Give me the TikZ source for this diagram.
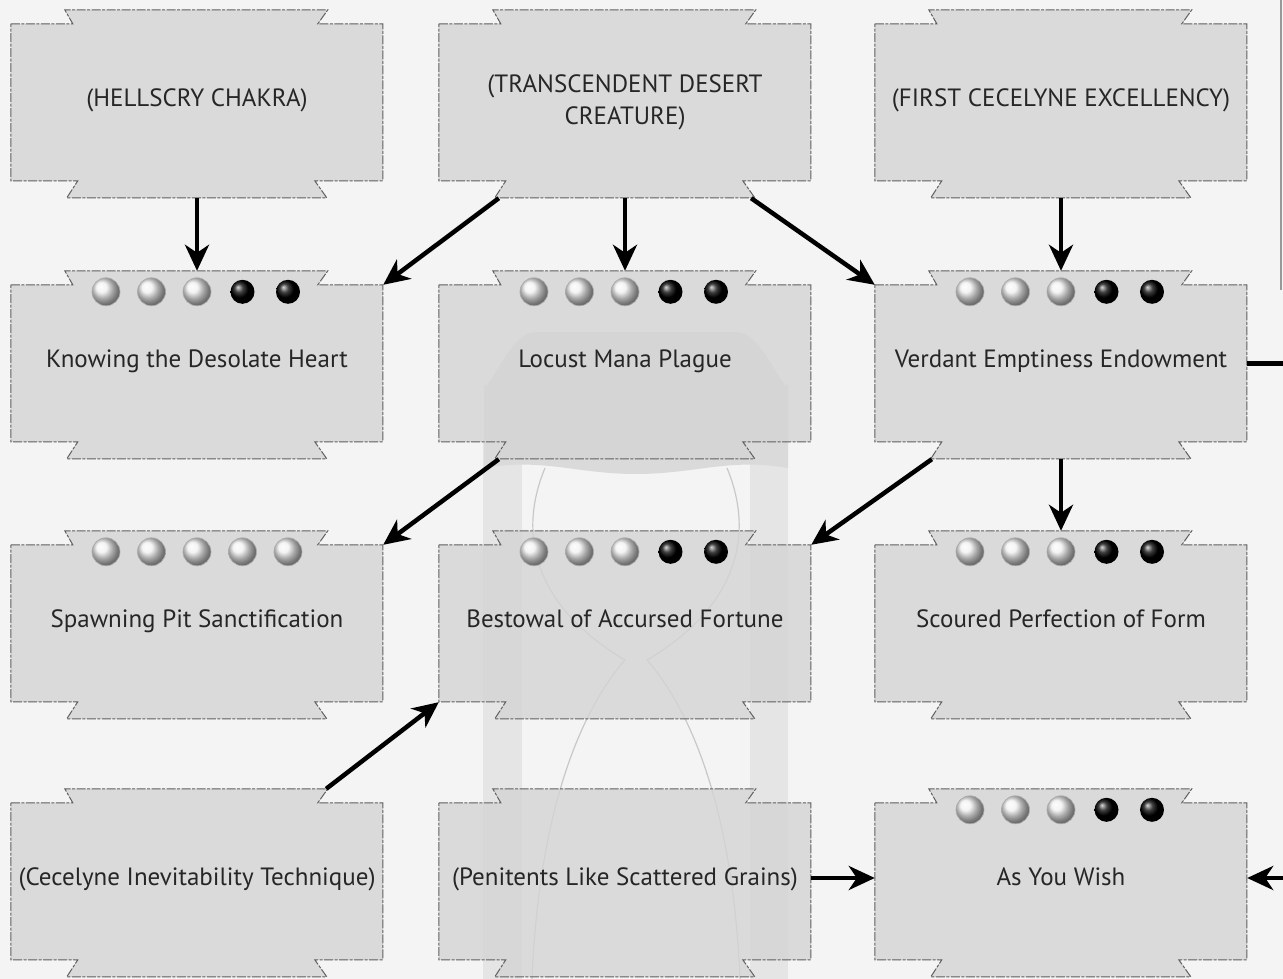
\documentclass[tikz,border=0pt]{standalone}
\usepackage{fontspec}
\setmainfont{PT Sans}
\usetikzlibrary{arrows.meta, calc}

\pgfdeclarelayer{back}
\pgfdeclarelayer{mid}
\pgfsetlayers{back,mid,main}

\definecolor{paper}{RGB}{244,244,244}
\definecolor{charmgray}{RGB}{212,212,212}
\definecolor{rimgray}{RGB}{95,95,95}
\definecolor{pillar}{RGB}{229,229,229}
\definecolor{capgray}{RGB}{218,218,218}
\definecolor{glassline}{RGB}{200,200,200}

\tikzset{
  charm/.style={minimum width=372pt, minimum height=157pt, inner sep=0pt, align=center,
    font=\fontsize{25}{32}\selectfont, text=black!85, text height=17pt, text depth=9pt},
  charmedge/.style={fill=charmgray, fill opacity=0.8, draw=rimgray, line width=1pt,
    dash pattern=on 9pt off 1.5pt on 3pt off 1.5pt},
  gem/.style={radius=14pt, ball color=gray!12, draw=gray!65, line width=0.7pt},
  onyx/.style={radius=12pt, ball color=black, draw=none},
  glass/.style={draw=glassline, line width=1.2pt},
  conn/.style={line width=4.5pt, -{Stealth[length=26pt, width=24pt, inset=8pt]}},
}

% notched frame round a charm node
\newcommand{\charmframe}[1]{%
  \begin{pgfonlayer}{mid}
    \path[charmedge] (#1.north west) -- ++(62,0) -- ++(-8,-14) -- ++(263,0) -- ++(-10,14) -- ++(65,0)
      -- ++(0,157) -- ++(-68,0) -- ++(12,17) -- ++(-260,0) -- ++(11,-17) -- ++(-67,0) -- cycle;
  \end{pgfonlayer}}

% row of dots on top of a charm
\newcommand{\gemrow}[2]{%
  \foreach \kind [count=\k from -2] in {#2}
    \shadedraw[\kind] ([xshift=\k*45.5pt, yshift=-7pt]#1.north) circle;}

\begin{document}
\begin{tikzpicture}[x=1pt, y=-1pt]
    \useasboundingbox (0,0) rectangle (1283,979);

    % hourglass behind the middle column
    \begin{pgfonlayer}{back}
        \fill[paper] (0,0) rectangle (1283,979);
        \fill[pillar] (483,440) rectangle (522,979);
        \fill[pillar] (750,440) rectangle (788,979);
        \fill[capgray] (484,468) -- (484,380) to[out=-90,in=180] (535,332) -- (737,332)
            to[out=0,in=-90] (788,380) -- (788,468) to[out=170,in=0] (636,474) to[out=180,in=10] cycle;
        \draw[glass] (545,468) .. controls (515,540) and (540,610) .. (625,660);
        \draw[glass] (727,468) .. controls (757,540) and (732,610) .. (647,660);
        \draw[glass] (625,660) .. controls (590,700) and (540,790) .. (532,979);
        \draw[glass] (647,660) .. controls (682,700) and (732,790) .. (740,979);
        \draw[gray!80, line width=2pt] (1281,0) -- (1281,290);
    \end{pgfonlayer}

    \node[charm] (hellscry) at (197,102.5) {(HELLSCRY CHAKRA)};
    \node[charm, text height=, text depth=] (desert) at (625,102.5) {(TRANSCENDENT DESERT\\CREATURE)};
    \node[charm] (firstexc) at (1061,102.5) {(FIRST CECELYNE EXCELLENCY)};
    \node[charm] (knowing) at (197,363.5) {Knowing the Desolate Heart};
    \node[charm] (locust) at (625,363.5) {Locust Mana Plague};
    \node[charm] (verdant) at (1061,363.5) {Verdant Emptiness Endowment};
    \node[charm] (spawning) at (197,623.5) {Spawning Pit Sanctification};
    \node[charm] (bestowal) at (625,623.5) {Bestowal of Accursed Fortune};
    \node[charm] (scoured) at (1061,623.5) {Scoured Perfection of Form};
    \node[charm] (inevit) at (197,881.5) {(Cecelyne Inevitability Technique)};
    \node[charm] (penitents) at (625,881.5) {(Penitents Like Scattered Grains)};
    \node[charm] (wish) at (1061,881.5) {As You Wish};

    \foreach \n in {hellscry, desert, firstexc, knowing, locust, verdant,
                    spawning, bestowal, scoured, inevit, penitents, wish}
        \charmframe{\n};

    \gemrow{knowing}{gem,gem,gem,onyx,onyx}
    \gemrow{locust}{gem,gem,gem,onyx,onyx}
    \gemrow{verdant}{gem,gem,gem,onyx,onyx}
    \gemrow{spawning}{gem,gem,gem,gem,gem}
    \gemrow{bestowal}{gem,gem,gem,onyx,onyx}
    \gemrow{scoured}{gem,gem,gem,onyx,onyx}
    \gemrow{wish}{gem,gem,gem,onyx,onyx}

    % loose ends off the right edge
    \coordinate (offverdant) at (1292,363.5);
    \coordinate (offwish) at (1292,878);

    \draw[conn] ([yshift=-17pt]hellscry.south) -- ([yshift=14pt]knowing.north);
    \draw[conn] ([xshift=60pt, yshift=-17pt]desert.south west) -- (knowing.north east);
    \draw[conn] ([yshift=-17pt]desert.south) -- ([yshift=14pt]locust.north);
    \draw[conn] ([xshift=-60pt, yshift=-17pt]desert.south east) -- (verdant.north west);
    \draw[conn] ([yshift=-17pt]firstexc.south) -- ([yshift=14pt]verdant.north);
    \draw[line width=4.5pt] (verdant.east) -- (offverdant);
    \draw[conn] ([xshift=60pt, yshift=-17pt]locust.south west) -- (spawning.north east);
    \draw[conn] ([xshift=57pt, yshift=-17pt]verdant.south west) -- (bestowal.north east);
    \draw[conn] ([yshift=-17pt]verdant.south) -- ([yshift=14pt]scoured.north);
    \draw[conn] ([xshift=-57pt, yshift=14pt]inevit.north east) -- (bestowal.south west);
    \draw[conn] (penitents.east |- offwish) -- (wish.west |- offwish);
    \draw[conn] (offwish) -- (wish.east |- offwish);
\end{tikzpicture}
\end{document}
